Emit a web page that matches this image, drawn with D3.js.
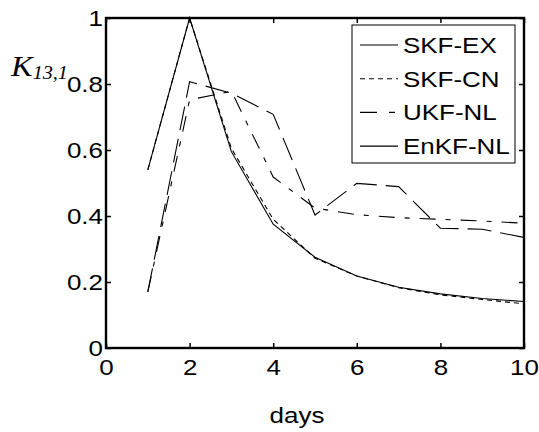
<!DOCTYPE html>
<html>
<head>
<meta charset="utf-8">
<script src="https://cdn.jsdelivr.net/npm/d3@7"></script>
<style>
  body { margin: 0; background: #fff; }
  text { font-family: "Liberation Sans", Arial, sans-serif; fill: #000; }
</style>
</head>
<body>
<svg id="chart"></svg>
<script>
const days    = [1, 2, 3, 4, 5, 6, 7, 8, 9, 10];
const skfEx   = [0.54, 1.0, 0.595, 0.375, 0.275, 0.218, 0.184, 0.164, 0.150, 0.141];
const skfCn   = [0.54, 1.0, 0.605, 0.390, 0.272, 0.218, 0.183, 0.161, 0.147, 0.134];
const ukfNl   = [0.17, 0.752, 0.778, 0.518, 0.424, 0.404, 0.395, 0.390, 0.385, 0.378];
const enkfNl  = [0.17, 0.807, 0.772, 0.708, 0.403, 0.499, 0.489, 0.363, 0.360, 0.335];
const seriesNames = ['SKF-EX', 'SKF-CN', 'UKF-NL', 'EnKF-NL'];
const xTicks = [0, 2, 4, 6, 8, 10];
const yTicks = [0, 0.2, 0.4, 0.6, 0.8, 1];

const W = 539, H = 432;
const SX = 1.18; // fonts in the picture look horizontally stretched
const m = { left: 106, right: 15, top: 18, bottom: 84 };

const svg = d3.select('#chart').attr('width', W).attr('height', H);

const x = d3.scaleLinear().domain([0, 10]).range([m.left, W - m.right]);
const y = d3.scaleLinear().domain([0, 1]).range([H - m.bottom, m.top]);

const fmt = d3.format('~g');
const styles = [
  { dash: null,          legendDash: null },
  { dash: '5,4',         legendDash: '5,4' },
  { dash: '16,10,5,10',  legendDash: '17,12,6,12' },
  { dash: '24,9',        legendDash: null }
];
const allSeries = [skfEx, skfCn, ukfNl, enkfNl];

// data lines
const line = d3.line().x((d, i) => x(days[i])).y(d => y(d));
svg.append('g')
  .selectAll('path')
  .data(allSeries)
  .join('path')
    .attr('d', line)
    .attr('fill', 'none')
    .attr('stroke', '#000')
    .attr('stroke-width', 1.1)
    .attr('stroke-dasharray', (d, i) => styles[i].dash);

// axes with inward ticks
const axBottom = svg.append('g').attr('transform', `translate(0,${y(0)})`)
  .call(d3.axisBottom(x).tickValues(xTicks).tickSize(-5).tickFormat(fmt));
const axLeft = svg.append('g').attr('transform', `translate(${x(0)},0)`)
  .call(d3.axisLeft(y).tickValues(yTicks).tickSize(-5).tickFormat(fmt));
const axTop = svg.append('g').attr('transform', `translate(0,${y(1)})`)
  .call(d3.axisTop(x).tickValues(xTicks).tickSize(-5).tickFormat(''));
const axRight = svg.append('g').attr('transform', `translate(${x(10)},0)`)
  .call(d3.axisRight(y).tickValues(yTicks).tickSize(-5).tickFormat(''));

[axBottom, axLeft, axTop, axRight].forEach(a => {
  a.select('.domain').remove();
  a.selectAll('.tick line').attr('stroke', '#000').attr('stroke-width', 1.5);
});

axBottom.selectAll('.tick text')
  .attr('x', null).attr('y', null).attr('dy', null)
  .attr('text-anchor', 'middle')
  .attr('font-size', 22)
  .attr('font-family', '"Liberation Sans", Arial, sans-serif')
  .attr('transform', `translate(0,27) scale(${SX},1)`);

axLeft.selectAll('.tick text')
  .attr('x', null).attr('y', null)
  .attr('dy', '0.35em')
  .attr('text-anchor', 'end')
  .attr('font-size', 22)
  .attr('font-family', '"Liberation Sans", Arial, sans-serif')
  .attr('transform', `translate(-3,0) scale(${SX},1)`);

// box
svg.append('rect')
  .attr('x', x(0)).attr('y', y(1))
  .attr('width', x(10) - x(0)).attr('height', y(0) - y(1))
  .attr('fill', 'none').attr('stroke', '#000').attr('stroke-width', 2.4);

// axis labels
svg.append('text')
  .attr('transform', `translate(${(x(0) + x(10)) / 2 - 18},423) scale(${SX},1)`)
  .attr('text-anchor', 'middle')
  .attr('font-size', 22)
  .text('days');

const ylab = svg.append('text')
  .attr('transform', `translate(11,76) scale(1.12,1)`)
  .style('font-family', '"Liberation Serif", "Times New Roman", serif')
  .style('font-style', 'italic');
ylab.append('tspan').attr('font-size', 29).text('K');
ylab.append('tspan').attr('font-size', 18).attr('dy', 3).text('13,1');

// legend
const lg = svg.append('g');
lg.append('rect')
  .attr('x', 352).attr('y', 25).attr('width', 163).attr('height', 138)
  .attr('fill', '#fff').attr('stroke', '#000').attr('stroke-width', 1);

const rows = lg.selectAll('g.row')
  .data(seriesNames)
  .join('g')
    .attr('class', 'row')
    .attr('transform', (d, i) => `translate(0,${45 + i * 33.7})`);

rows.append('line')
  .attr('x1', 360).attr('x2', 398)
  .attr('stroke', '#000').attr('stroke-width', 1.1)
  .attr('stroke-dasharray', (d, i) => styles[i].legendDash);

rows.append('text')
  .attr('transform', `translate(403,8) scale(${SX},1)`)
  .attr('font-size', 22)
  .text(d => d);
</script>
</body>
</html>
